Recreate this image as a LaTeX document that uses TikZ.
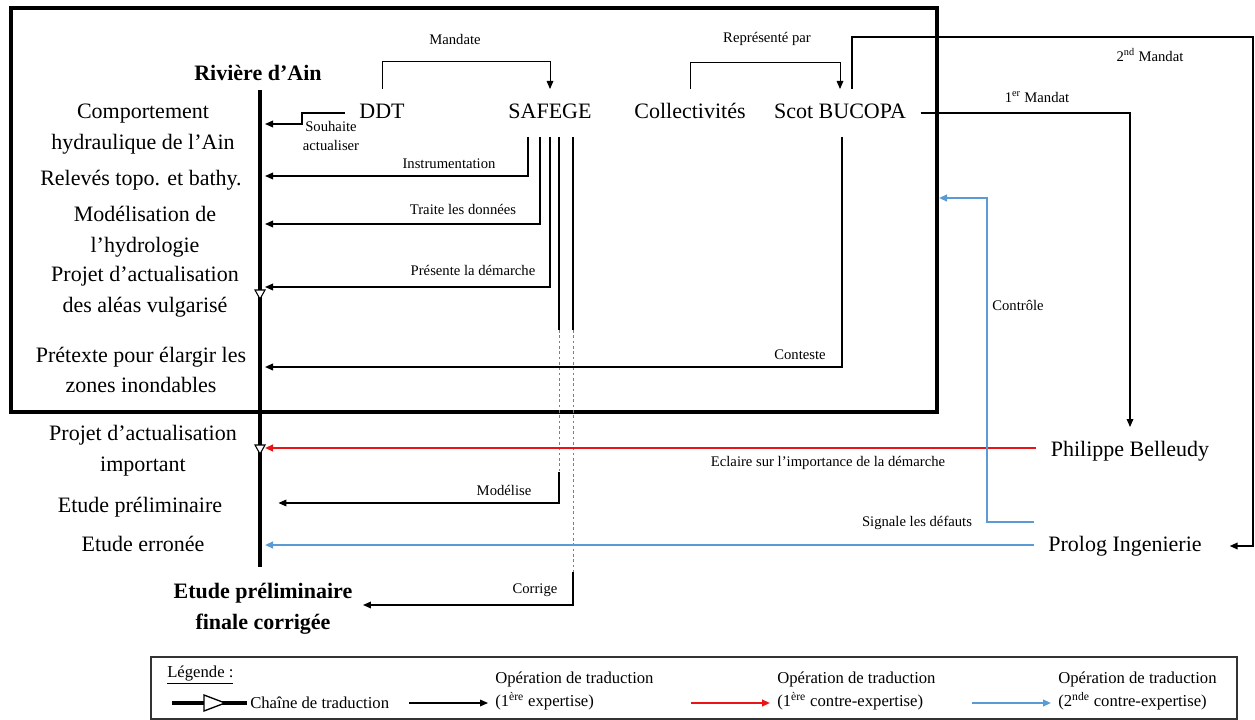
\documentclass[tikz,border=0pt]{standalone}
\usepackage{fontspec}
\setmainfont{Liberation Serif}
\usepackage{xcolor}
\usepackage{tikz}
\usetikzlibrary{arrows.meta, positioning}
\definecolor{ctrblue}{RGB}{91,155,213}
\definecolor{ctrred}{RGB}{235,20,20}

\tikzset{
  lab/.style={font=\fontsize{16.5}{23}\selectfont, align=center, inner sep=2pt},
  labbold/.style={lab, font=\fontsize{16.5}{23}\selectfont\bfseries, outer sep=6pt},
  actor/.style={font=\fontsize{16.5}{20}\selectfont, inner sep=2pt, outer sep=9pt, text height=11pt, text depth=3pt},
  tag/.style={font=\fontsize{11}{14}\selectfont, inner sep=1pt, align=center},
  leg/.style={font=\fontsize{12.5}{17}\selectfont, align=left, anchor=west, inner sep=0pt},
  expo/.style={-{Triangle[length=6pt,width=5pt]}, line width=0.9pt},
  contre1/.style={expo, ctrred, line width=1.4pt},
  contre2/.style={expo, ctrblue, line width=1.4pt},
  chainline/.style={line width=3pt},
  relay/.style={gray, line width=0.6pt, dash pattern=on 2pt off 2pt},
}

\begin{document}
\begin{tikzpicture}[x=0.75pt, y=-0.75pt]
  \useasboundingbox (0,0) rectangle (1255,720);

  % Frame of the first expertise
  \coordinate (fr-nw) at (11,8);
  \coordinate (fr-se) at (937,412);
  \draw[line width=2.3pt] (fr-nw) rectangle (fr-se);

  % The translation chain
  \node[lab, font=\fontsize{16.5}{23}\selectfont\bfseries] (riv) at (258,73) {Rivière d’Ain};
  \coordinate (chtop) at (260,90);
  \coordinate (chbot) at (260,567);
  \draw[chainline] (chtop) -- (chbot);
  \foreach \y in {290,445} {
    \draw[fill=white, line width=0.8pt] (255,\y) -- (265,\y) -- (260,\y+9) -- cycle;
  }
  % where the operations reach the chain
  \foreach \n/\y in {1/124, 2/176, 3/224, 4/287, 5/367, 6/448, 8/545} {
    \coordinate (in\n) at (265,\y);
  }

  % Steps of the chain
  \node[lab] (l1) at (143,129) {Comportement\\hydraulique de l’Ain};
  \node[lab] (l2) at (141,180) {Relevés topo. et bathy.};
  \node[lab] (l3) at (145,232) {Modélisation de\\l’hydrologie};
  \node[lab] (l4) at (145,292) {Projet d’actualisation\\des aléas vulgarisé};
  \node[lab] (l5) at (141,370) {Prétexte pour élargir les\\zones inondables};
  \node[lab] (l6) at (143,451) {Projet d’actualisation\\important};
  \node[lab] (l7) at (140,507) {Etude préliminaire};
  \node[lab] (l8) at (143,544) {Etude erronée};
  \node[labbold] (fin) at (263,609) {Etude préliminaire\\finale corrigée};

  % Actors
  \node[actor] (ddt) at (382,113) {DDT};
  \node[actor] (safege) at (550,113) {SAFEGE};
  \node[actor] (coll) at (690,113) {Collectivités};
  \node[actor] (scot) at (840,113) {Scot BUCOPA};
  \node[actor] (phil) at (1130,451) {Philippe Belleudy};
  \node[actor] (prolog) at (1125,546) {Prolog Ingenierie};

  % Mandates
  \draw[expo, line width=0.7pt] (ddt.north) -- ++(0,-28) -| (safege.north);
  \node[tag] (t-mand) at (455,39) {Mandate};
  \draw[expo, line width=0.7pt] (coll.north) -- ++(0,-27) -| (scot.north);
  \node[tag] (t-repr) at (767,39) {Représenté par};
  \draw[expo, line width=1.2pt] (scot.north -| 852,0) |- (1253,37) |- ([xshift=10pt]prolog.east);
  \node[tag] (t-m2) at (1150,55) {2\textsuperscript{nd} Mandat};
  \draw[expo] (scot.east) -| (phil.north);
  \node[tag] (t-m1) at (1037,97) {1\textsuperscript{er} Mandat};

  % First expertise
  \draw[expo] (ddt.west) -- (302,113) |- (in1);
  \node[tag] (t-souh) at (331,136) {Souhaite\\actualiser};
  \foreach \x/\n in {528/2, 540/3, 550/4} {
    \draw[expo] (safege.south -| \x,0) |- (in\n);
  }
  \node[tag] (t-instr) at (449,164) {Instrumentation};
  \node[tag] (t-trait) at (463,209) {Traite les données};
  \node[tag] (t-pres) at (473,270) {Présente la démarche};

  % Later operations of SAFEGE
  \coordinate (mod-a) at (559,330);
  \coordinate (mod-b) at (559,472);
  \coordinate (cor-a) at (573,330);
  \coordinate (cor-b) at (573,572);
  \draw[line width=0.9pt] (safege.south -| mod-a) -- (mod-a);
  \draw[relay] (mod-a) -- (mod-b);
  \draw[expo] (mod-b) |- ([xshift=40pt]l7.east |- 0,503);
  \node[tag] (t-mod) at (504,490) {Modélise};
  \draw[line width=0.9pt] (safege.south -| cor-a) -- (cor-a);
  \draw[relay] (cor-a) -- (cor-b);
  \draw[expo] (cor-b) |- (fin.east |- 0,605);
  \node[tag] (t-cor) at (535,590) {Corrige};

  % Contestation
  \draw[expo, line width=1.2pt] (scot.south -| 842,0) |- (in5);
  \node[tag] (t-cont) at (800,355) {Conteste};

  % Counter-expertises
  \draw[contre1] (phil.west |- in6) -- (in6);
  \node[tag] (t-ecl) at (828,463) {Eclaire sur l’importance de la démarche};
  \coordinate (ctl) at (939,198);
  \draw[contre2] (prolog.north west) -| (ctl -| 987,0) -- (ctl);
  \node[tag] (t-ctl) at (1018,305) {Contrôle};
  \draw[contre2] (prolog.west |- in8) -- (in8);
  \node[tag] (t-sig) at (917,523) {Signale les défauts};

  % Legend
  \draw[line width=1.2pt, black!80] (151,657) rectangle (1237,719);
  \node[leg] (lg) at (167,675) {\underline{Légende :}};
  \draw[line width=3.5pt] (172,703) -- (247,703);
  \draw[fill=white, line width=1pt] (204,695) -- (225,703) -- (204,711) -- cycle;
  \node[leg] (lg0) at (250,703) {Chaîne de traduction};
  \foreach \x/\st/\txt/\n in {409/expo/{(1\textsuperscript{ère} expertise)}/1,
                             691/contre1/{(1\textsuperscript{ère} contre-expertise)}/2,
                             972/contre2/{(2\textsuperscript{nde} contre-expertise)}/3} {
    \draw[\st] (\x,703) -- ++(79,0);
    \node[leg] (lg\n) at (\x+86,691) {Opération de traduction\\\txt};
  }
\end{tikzpicture}
\end{document}
